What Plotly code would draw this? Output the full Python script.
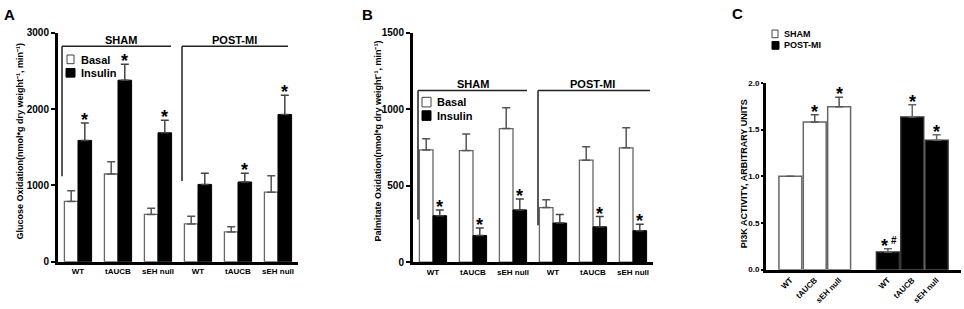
import plotly.graph_objects as go

W, H = 964, 309

# ---------------- data ----------------
groups_ab = ["WT", "tAUCB", "sEH null", "WT", "tAUCB", "sEH null"]
series_ab = ["Basal", "Insulin"]

glucose_basal = [790, 1150, 620, 495, 390, 912]
glucose_basal_err = [140, 160, 80, 100, 68, 214]
glucose_insulin = [1590, 2380, 1690, 1013, 1045, 1930]
glucose_insulin_err = [230, 210, 165, 147, 115, 252]
glucose_insulin_sig = [True, True, True, False, True, True]

palm_basal = [734, 730, 874, 357, 667, 748]
palm_basal_err = [74, 109, 137, 52, 88, 132]
palm_insulin = [304, 174, 342, 256, 231, 206]
palm_insulin_err = [38, 50, 71, 55, 67, 42]
palm_insulin_sig = [True, True, True, False, True, True]

groups_c = ["WT", "tAUCB", "sEH null"]
series_c = ["SHAM", "POST-MI"]
pi3k_sham = [1.0, 1.58, 1.745]
pi3k_sham_err = [0.0, 0.08, 0.10]
pi3k_sham_sig = ["", "*", "*"]
pi3k_post = [0.19, 1.635, 1.385]
pi3k_post_err = [0.035, 0.13, 0.06]
pi3k_post_sig = ["*#", "*", "*"]

FONT = "Arial, Liberation Sans, sans-serif"
GRAY = "#666666"

def fx(px):
    return px / W

def fy(py):
    return 1 - py / H

fig = go.Figure()

BW = 0.34
pos6 = list(range(6))

def add_pair(xa, ya, basal, berr, ins, ierr):
    fig.add_trace(go.Bar(
        x=pos6, y=basal, name=series_ab[0], width=BW, offset=-BW,
        marker=dict(color="white", line=dict(color=GRAY, width=1.3)),
        error_y=dict(type="data", array=berr, arrayminus=[0] * 6, symmetric=False,
                     color="#555555", thickness=1.5, width=4),
        xaxis=xa, yaxis=ya, showlegend=False))
    fig.add_trace(go.Bar(
        x=pos6, y=ins, name=series_ab[1], width=BW, offset=0,
        marker=dict(color="black", line=dict(color="black", width=1)),
        error_y=dict(type="data", array=ierr, arrayminus=[0] * 6, symmetric=False,
                     color="#444444", thickness=1.5, width=4),
        xaxis=xa, yaxis=ya, showlegend=False))

add_pair("x", "y", glucose_basal, glucose_basal_err, glucose_insulin, glucose_insulin_err)
add_pair("x2", "y2", palm_basal, palm_basal_err, palm_insulin, palm_insulin_err)

CW = 0.94
pos_sham = [0, 1, 2]
pos_post = [4, 5, 6]
fig.add_trace(go.Bar(
    x=pos_sham, y=pi3k_sham, name=series_c[0], width=CW, offset=-CW / 2,
    marker=dict(color="white", line=dict(color=GRAY, width=1.5)),
    error_y=dict(type="data", array=pi3k_sham_err, arrayminus=[0] * 3, symmetric=False,
                 color="#555555", thickness=1.5, width=4),
    xaxis="x3", yaxis="y3", showlegend=False))
fig.add_trace(go.Bar(
    x=pos_post, y=pi3k_post, name=series_c[1], width=CW, offset=-CW / 2,
    marker=dict(color="black", line=dict(color="#333333", width=1.5)),
    error_y=dict(type="data", array=pi3k_post_err, arrayminus=[0] * 3, symmetric=False,
                 color="#666666", thickness=1.5, width=4),
    xaxis="x3", yaxis="y3", showlegend=False))

annotations = []
shapes = []

STAR = dict(size=18, family=FONT, color="black", weight="bold")

def star(xref, yref, x, y, text="*", xshift=0):
    annotations.append(dict(xref=xref, yref=yref, x=x, y=y, text=text, showarrow=False,
                            yanchor="bottom", xanchor="center", yshift=-9, xshift=xshift, font=STAR))

for i in pos6:
    if glucose_insulin_sig[i]:
        star("x", "y", i + BW / 2, glucose_insulin[i] + glucose_insulin_err[i])
    if palm_insulin_sig[i]:
        star("x2", "y2", i + BW / 2, palm_insulin[i] + palm_insulin_err[i])
for p, v, e, s in zip(pos_sham, pi3k_sham, pi3k_sham_err, pi3k_sham_sig):
    if s:
        star("x3", "y3", p, v + e, s)
for p, v, e, s in zip(pos_post, pi3k_post, pi3k_post_err, pi3k_post_sig):
    if s:
        if "#" in s:
            star("x3", "y3", p, v + e, "*", xshift=-3)
            annotations.append(dict(xref="x3", yref="y3", x=p, y=v + e, text="#", showarrow=False,
                                    yanchor="bottom", xanchor="center", yshift=1, xshift=6,
                                    font=dict(size=10, family=FONT, color="black", weight="bold")))
        else:
            star("x3", "y3", p, v + e, s)

# brackets (paper pixel coordinates)
def line(x0, y0, x1, y1):
    shapes.append(dict(type="line", xref="paper", yref="paper", x0=fx(x0), y0=fy(y0),
                       x1=fx(x1), y1=fy(y1), line=dict(color="#222222", width=1.5)))

def label(x, y, text, size=11, xanchor="center", **kw):
    annotations.append(dict(xref="paper", yref="paper", x=fx(x), y=fy(y), text=text,
                            showarrow=False, xanchor=xanchor, yanchor="middle",
                            font=dict(size=size, family=FONT, color="black", weight="bold"), **kw))

# Panel A brackets
line(62, 42, 171, 42); line(62, 42, 62, 177)
line(182, 42, 288, 42); line(182, 42, 182, 182)
label(121, 35, series_c[0]); label(234, 35, series_c[1])
# Panel B brackets
line(418, 88, 527, 88); line(418, 88, 418, 222)
line(538, 88, 650, 88); line(538, 88, 538, 228)
label(473, 81, series_c[0]); label(592, 81, series_c[1])

# legends
def legbox(x0, y0, x1, y1, fill, lc):
    shapes.append(dict(type="rect", xref="paper", yref="paper", x0=fx(x0), y0=fy(y1),
                       x1=fx(x1), y1=fy(y0), fillcolor=fill, line=dict(color=lc, width=1)))

legbox(67, 51, 74, 60, "white", "#444444"); label(79, 56, series_ab[0], xanchor="left")
legbox(66, 65, 75, 74, "black", "black"); label(79, 70, series_ab[1], xanchor="left")
legbox(422, 95, 431, 105, "white", "#444444"); label(435, 100, series_ab[0], xanchor="left")
legbox(422, 109, 431, 119, "black", "black"); label(435, 114, series_ab[1], xanchor="left")
legbox(772, 25, 778, 33, "white", "#444444"); label(782, 29, series_c[0], size=9, xanchor="left")
legbox(772, 37, 779, 45, "black", "black"); label(782, 41, series_c[1], size=9, xanchor="left")

# panel letters
label(9, 9, "A", size=15); label(367, 9, "B", size=15); label(737, 8, "C", size=15)

# y titles
label(20, 141, "Glucose Oxidation(nmol*g dry weight\u207b\u00b9, min\u207b\u00b9)", size=9, textangle=-90)
label(378, 141, "Palmitate Oxidation(nmol*g dry weight\u207b\u00b9, min\u207b\u00b9)", size=9, textangle=-90)
label(744, 175, "PI3K ACTIVITY, ARBITRARY UNITS", size=9, textangle=-90)

tickfont_y = dict(size=10, family=FONT, color="black", weight="bold")
tickfont_x = dict(size=8, family=FONT, color="black", weight="bold")

def xax(dom, rng, anchor, tv, tt, angle=0):
    return dict(domain=dom, range=rng, anchor=anchor, showline=True, linecolor="black", linewidth=2.5,
                ticks="", tickvals=tv, ticktext=tt, tickfont=tickfont_x, tickangle=angle,
                showgrid=False, zeroline=False, fixedrange=True)

def yax(dom, rng, anchor, tv, tt, font=tickfont_y, ticklen=4):
    return dict(domain=dom, range=rng, anchor=anchor, showline=True, linecolor="black", linewidth=3,
                ticks="outside", ticklen=ticklen, tickwidth=2, tickcolor="black", tickvals=tv, ticktext=tt,
                tickfont=font, showgrid=False, zeroline=False, fixedrange=True)

yA = [0, 1000, 2000, 3000]
yB = [0, 500, 1000, 1500]
yC = [0.0, 0.5, 1.0, 1.5, 2.0]

fig.update_layout(
    width=W, height=H, margin=dict(l=0, r=0, t=0, b=0),
    paper_bgcolor="white", plot_bgcolor="white", showlegend=False,
    font=dict(family=FONT, color="black"),
    xaxis=xax([fx(58), fx(298)], [-0.5, 5.5], "y", pos6, groups_ab),
    yaxis=yax([fy(266), fy(28)], [0, 3000], "x", yA, [str(v) for v in yA]),
    xaxis2=xax([fx(413), fx(653)], [-0.5, 5.5], "y2", pos6, groups_ab),
    yaxis2=yax([fy(266.5), fy(28)], [0, 1500], "x2", yB, [str(v) for v in yB]),
    xaxis3=xax([fx(766), fx(961)], [-1, 7], "y3", pos_sham + pos_post, groups_c + groups_c, angle=-45),
    yaxis3=yax([fy(274.3), fy(80)], [0, 2], "x3", yC, [f"{v:.1f}" for v in yC],
               font=dict(size=8, family=FONT, color="black", weight="bold"), ticklen=2),
    annotations=annotations, shapes=shapes,
)

fig.write_html("out.html", config={"displayModeBar": False},
               post_script="document.body.style.margin='0';document.body.style.padding='0';")
